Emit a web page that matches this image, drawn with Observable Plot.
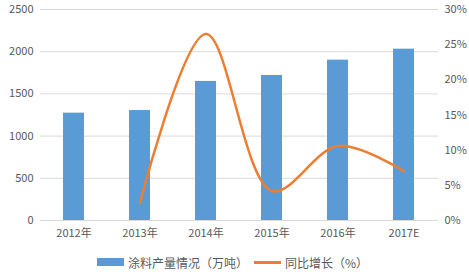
<!DOCTYPE html>
<html><head><meta charset="utf-8">
<script src="https://cdn.jsdelivr.net/npm/d3@7"></script>
<script src="https://cdn.jsdelivr.net/npm/@observablehq/plot@0.6"></script>
<style>
body{margin:0;background:#fff;font-family:"Noto Sans CJK SC","Noto Sans",sans-serif;}
#legend{display:flex;justify-content:center;align-items:center;height:32px;font-size:12px;color:#595959;margin-left:-4px}
.item{display:flex;align-items:center;margin:0 3px}
.sw{width:27px;height:8px;background:#5B9BD5;margin-right:4px}
.ln{width:27px;height:3px;background:#ED7D31;margin-right:4px}
</style></head>
<body><div id="chart"></div>
<div id="legend"><div class="item"><span class="sw"></span><span id="l1"></span></div><div class="item"><span class="ln"></span><span id="l2"></span></div></div>
<script>
const years = ["2012年","2013年","2014年","2015年","2016年","2017E"];
const output = [1272, 1303, 1648, 1718, 1900, 2030];
const growthYears = ["2013年","2014年","2015年","2016年","2017E"];
const growth = [2.5, 26.5, 4.2, 10.6, 7.0];
const leftTicks = [0, 500, 1000, 1500, 2000, 2500];
const rightTicks = [0, 5, 10, 15, 20, 25, 30];
const seriesNames = ["涂料产量情况（万吨）", "同比增长（%）"];

const k = 2500 / 30;
const bars = years.map((y, i) => ({year: y, value: output[i]}));
const line = growthYears.map((y, i) => ({year: y, value: growth[i] * k}));

const chart = Plot.plot({
  width: 469, height: 246,
  marginTop: 9, marginBottom: 26, marginLeft: 40, marginRight: 31,
  style: {fontFamily: '"Noto Sans CJK SC","Noto Sans",sans-serif', fontSize: "11px", color: "#595959"},
  x: {domain: years, paddingInner: 0.68, paddingOuter: 0.34, label: null},
  y: {domain: [0, 2500], label: null},
  marks: [
    Plot.gridY(leftTicks, {stroke: "#d9d9d9", strokeOpacity: 1}),
    Plot.barY(bars, {x: "year", y: "value", fill: "#5B9BD5"}),
    Plot.line(line, {x: "year", y: "value", stroke: "#ED7D31", strokeWidth: 2.5, curve: "catmull-rom"}),
    Plot.axisY(leftTicks, {anchor: "left", tickSize: 0, tickPadding: 7, label: null, tickFormat: d => String(d)}),
    Plot.axisY(rightTicks.map(d => d * k), {anchor: "right", tickSize: 0, tickPadding: 6, label: null, tickFormat: d => Math.round(d / k) + "%"}),
    Plot.axisX({tickSize: 0, tickPadding: 9, label: null})
  ]
});
document.getElementById("chart").appendChild(chart);
document.getElementById("l1").textContent = seriesNames[0];
document.getElementById("l2").textContent = seriesNames[1];
</script></body></html>
